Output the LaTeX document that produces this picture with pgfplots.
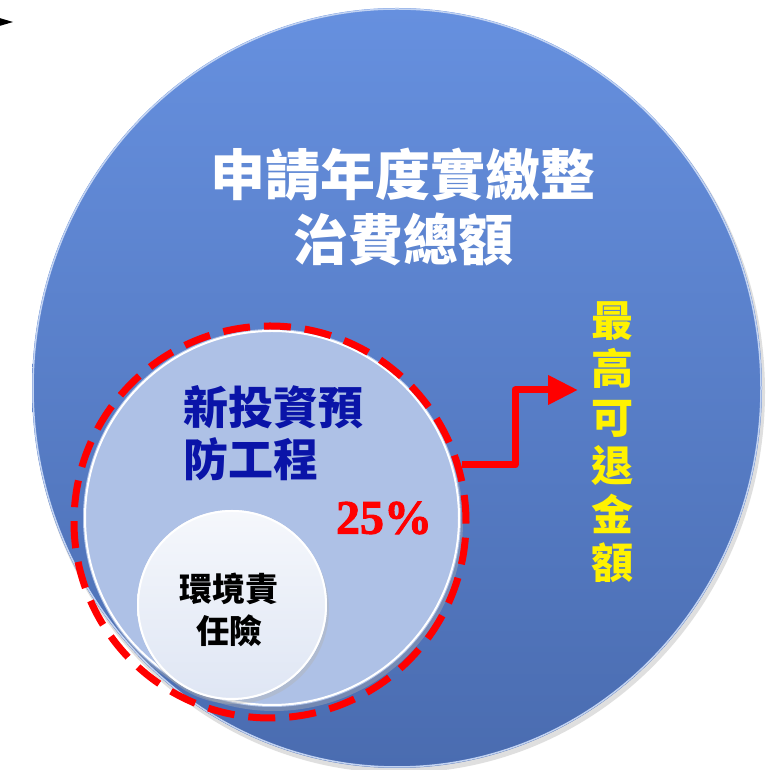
\documentclass[border=0pt]{standalone}
\usepackage{pgfplots}
\pgfplotsset{compat=1.18}
\usepackage{fontspec}
\setmainfont{Liberation Serif}
\newfontfamily\cjk{Noto Sans CJK TC}
\newfontfamily\serifbold{Liberation Serif Bold}[FakeBold=2]
\usetikzlibrary{arrows.meta}

\definecolor{bigtop}{HTML}{6690DF}
\definecolor{bigbot}{HTML}{4A6CB0}
\definecolor{midfill}{HTML}{AEC1E6}
\definecolor{smallfill}{HTML}{DFE6F4}
\definecolor{navy}{HTML}{0A14A8}

\begin{document}
\begin{tikzpicture}
\begin{axis}[
    scale only axis,
    width=771pt, height=770pt,
    xmin=0, xmax=771, ymin=0, ymax=770,
    hide axis,
]
% frame so the page covers the whole plot area
\path[draw=none] (axis cs:0,0) rectangle (axis cs:771,770);

% outer circle
\fill[black!25, opacity=0.5] (axis cs:399,378) ellipse [x radius=366, y radius=381];
\shade[top color=bigtop, bottom color=bigbot] (axis cs:397,382) ellipse [x radius=365, y radius=380];
\draw[white!60!bigtop, line width=1.5pt] (axis cs:397,382) ellipse [x radius=364, y radius=379];

% top-left arrow tip
\fill[black] (axis cs:-4,743) -- (axis cs:13,748) -- (axis cs:-4,753) -- cycle;

% middle circle
\fill[black!30, opacity=0.4] (axis cs:274,248) circle [radius=189];
\fill[midfill] (axis cs:272,252) circle [radius=189];
\draw[white, line width=2pt] (axis cs:272,252) circle [radius=187];

% small circle
\fill[black!30, opacity=0.4] (axis cs:234,161) circle [radius=95];
\shade[top color=white!70!smallfill, bottom color=smallfill] (axis cs:232,165) circle [radius=95];
\draw[white, line width=2pt] (axis cs:232,165) circle [radius=94];

% red dashed ring
\draw[red, line width=7pt, dash pattern=on 27pt off 14pt] (axis cs:270,248) circle [radius=196];

% red arrow
\addplot[red, line width=7pt, line join=round, -{Triangle[length=30pt, width=28pt]}]
    coordinates {(462,305) (515,305) (515,380) (578,380)};

% labels
\node[white, align=center, font=\cjk\bfseries\fontsize{55}{66}\selectfont]
    at (axis cs:403,563) {申請年度實繳整\\治費總額};
\node[navy, align=left, anchor=north west, font=\cjk\bfseries\fontsize{45}{52}\selectfont]
    at (axis cs:180,388) {新投資預\\防工程};
\node[red, font=\serifbold\fontsize{48}{50}\selectfont]
    at (axis cs:384,252) {25\%};
\node[black, align=center, font=\cjk\bfseries\fontsize{33}{42}\selectfont]
    at (axis cs:229,160) {環境責\\任險};
\node[yellow, align=center, anchor=north, font=\cjk\bfseries\fontsize{42}{48.5}\selectfont]
    at (axis cs:612,472) {最\\高\\可\\退\\金\\額};
\end{axis}
\end{tikzpicture}
\end{document}
